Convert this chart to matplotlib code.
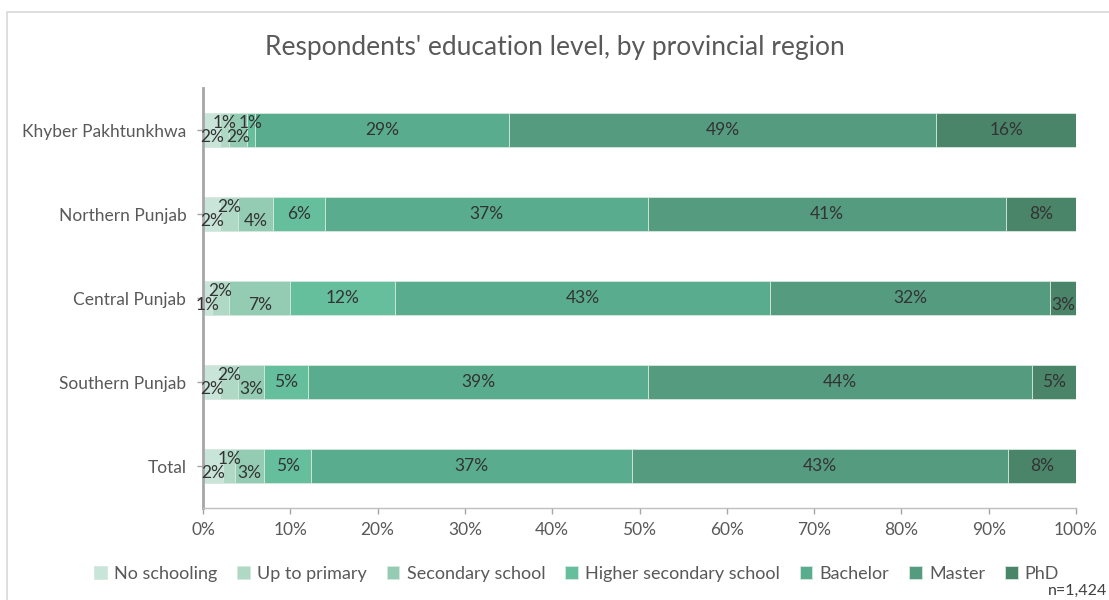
import numpy as np
import matplotlib.pyplot as plt
from matplotlib.patches import Rectangle

plt.rcParams["font.family"] = ["Lato", "DejaVu Sans"]

# ==========================================================
# DATA
# ==========================================================

regions = [
    "Khyber Pakhtunkhwa",
    "Northern Punjab",
    "Central Punjab",
    "Southern Punjab",
    "Total",
]

levels = [
    "No schooling",
    "Up to primary",
    "Secondary school",
    "Higher secondary school",
    "Bachelor",
    "Master",
    "PhD",
]

# share of respondents (%) per region, one list per education level
no_schooling = [2, 2, 1, 2, 2.3]
up_to_primary = [1, 2, 2, 2, 1.4]
secondary = [2, 4, 7, 3, 3.3]
higher_secondary = [1, 6, 12, 5, 5.4]
bachelor = [29, 37, 43, 39, 36.7]
master = [49, 41, 32, 44, 43.1]
phd = [16, 8, 3, 5, 7.8]

x_ticks = [0, 10, 20, 30, 40, 50, 60, 70, 80, 90, 100]

sample_note = "n=1,424"

colors = [
    "#c9e4d9",
    "#afd8c5",
    "#93cbb3",
    "#66bf9c",
    "#5aac8e",
    "#559b7f",
    "#4a8469",
]

# ==========================================================
# FIGURE
# ==========================================================

fig = plt.figure(
    figsize=(11.09, 6.0),
    dpi=100
)

# light frame around the chart area
fig.patches.append(
    Rectangle(
        (7 / 1109, -0.05),
        1.2,
        1 - 12 / 600 + 0.05,
        transform=fig.transFigure,
        fill=False,
        edgecolor="#d9d9d9",
        linewidth=1.2
    )
)

ax = fig.add_axes([
    203 / 1109,
    1 - 508 / 600,
    (1076 - 203) / 1109,
    (508 - 88) / 600
])

series = [
    no_schooling,
    up_to_primary,
    secondary,
    higher_secondary,
    bachelor,
    master,
    phd,
]

y = np.arange(len(regions))
left = np.zeros(len(regions))
bar_h = 0.4

for i, (name, vals) in enumerate(zip(levels, series)):

    vals = np.array(vals, dtype=float)

    ax.barh(
        y,
        vals,
        left=left,
        height=bar_h,
        color=colors[i],
        edgecolor="#d6e8df",
        linewidth=0.6,
        label=name
    )

    # labels on thin segments are staggered above/below the bar centre
    for j, v in enumerate(vals):

        dy = 0.0
        if i < 3 or v < 5:
            dy = 0.085 if i % 2 == 0 else -0.085

        ax.text(
            left[j] + v / 2,
            y[j] + dy,
            f"{v:.0f}%",
            ha="center",
            va="center",
            fontsize=12.5,
            color="#333333"
        )

    left += vals

# ==========================================================
# AXES STYLE
# ==========================================================

ax.set_xlim(0, 100)
ax.set_ylim(len(regions) - 0.5, -0.5)

ax.set_yticks(y)
ax.set_yticklabels(regions)

ax.set_xticks(x_ticks)
ax.set_xticklabels([f"{t}%" for t in x_ticks])

ax.tick_params(
    axis="both",
    colors="#a6a6a6",
    labelcolor="#595959",
    labelsize=12.5,
    length=4,
    width=1
)
ax.tick_params(axis="x", pad=6)
ax.tick_params(axis="y", pad=8)

for side in ["top", "right"]:
    ax.spines[side].set_visible(False)

ax.spines["left"].set_color("#a6a6a6")
ax.spines["left"].set_linewidth(2)
ax.spines["bottom"].set_color("#bfbfbf")
ax.spines["bottom"].set_linewidth(1)

fig.text(
    0.5,
    1 - 48 / 600,
    "Respondents' education level, by provincial region",
    ha="center",
    va="center",
    fontsize=19,
    color="#595959"
)

fig.legend(
    loc="center",
    bbox_to_anchor=(0.52, 1 - 574 / 600),
    ncol=len(levels),
    frameon=False,
    fontsize=13,
    handlelength=0.7,
    handleheight=0.7,
    handletextpad=0.4,
    columnspacing=1.1,
    labelcolor="#595959"
)

fig.text(
    0.998,
    1 - 591 / 600,
    sample_note,
    ha="right",
    va="center",
    fontsize=11.5,
    color="#404040"
)

plt.savefig("out.png", dpi=100)
